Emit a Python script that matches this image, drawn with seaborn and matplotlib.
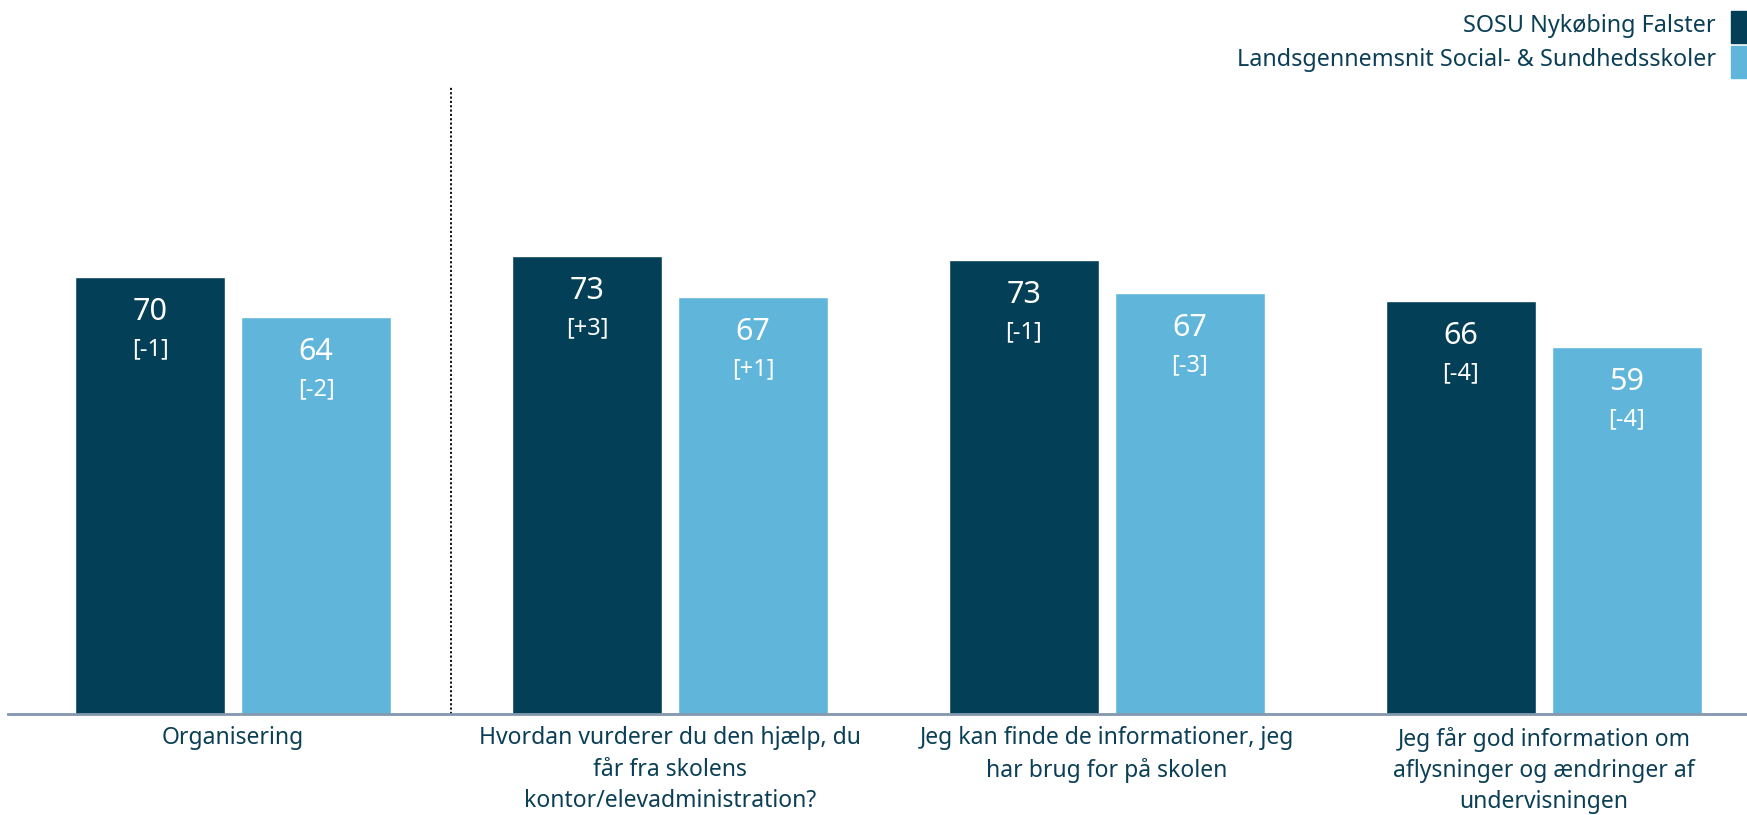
import pandas as pd
import seaborn as sns
import matplotlib.pyplot as plt
from matplotlib.patches import Rectangle

# ---------------------------------------------------------
# Data
# ---------------------------------------------------------
categories = [
    "Organisering",
    "Hvordan vurderer du den hjælp, du\nfår fra skolens\nkontor/elevadministration?",
    "Jeg kan finde de informationer, jeg\nhar brug for på skolen",
    "Jeg får god information om\naflysninger og ændringer af\nundervisningen",
]
series = ["SOSU Nykøbing Falster", "Landsgennemsnit Social- & Sundhedsskoler"]
school_values = [70.0, 73.4, 72.7, 66.1]
national_values = [63.6, 66.8, 67.4, 58.8]
school_change = ["[-1]", "[+3]", "[-1]", "[-4]"]
national_change = ["[-2]", "[+1]", "[-3]", "[-4]"]

colors = ["#033F57", "#5FB5DA"]
text_color = "#0B3F56"

df = pd.DataFrame({
    "cat": categories * 2,
    "value": school_values + national_values,
    "series": [series[0]] * 4 + [series[1]] * 4,
    "change": school_change + national_change,
})

# ---------------------------------------------------------
# Plot
# ---------------------------------------------------------
sns.set_theme(style="white")
plt.rcParams["font.family"] = ["Noto Sans", "DejaVu Sans"]

fig = plt.figure(figsize=(17.47, 8.15), dpi=100)
ax = fig.add_axes([8 / 1747, 101 / 815, 1 - 8 / 1747, 714 / 815])

sns.barplot(
    data=df, x="cat", y="value", hue="series",
    palette=colors, width=0.76, gap=0.097,
    saturation=1, legend=False, ax=ax,
)

ax.set_xlim(-0.515, 3.465)
ax.set_ylim(0, 114.4)
ax.set_xlabel("")
ax.set_ylabel("")
ax.set_yticks([])
for s in ["top", "right", "left"]:
    ax.spines[s].set_visible(False)
ax.spines["bottom"].set_color("#8398AE")
ax.spines["bottom"].set_linewidth(2)
ax.tick_params(axis="x", length=0, pad=9)
ax.set_xticks(range(len(categories)))
ax.set_xticklabels(categories, fontsize=16.5, color=text_color,
                   linespacing=1.4, va="top")

# separator between overall score and the questions
ax.axvline(0.5, ymin=0, ymax=100.5 / 114.4, color="black",
           linestyle=(0, (1.2, 1.2)), linewidth=1.3)

# value labels inside bars
for container, changes in zip(ax.containers, [school_change, national_change]):
    for bar, ch in zip(container, changes):
        cx = bar.get_x() + bar.get_width() / 2
        h = bar.get_height()
        ax.annotate(f"{h:.0f}", xy=(cx, h), xytext=(0, -25),
                    textcoords="offset points", ha="center", va="center",
                    color="white", fontsize=22)
        ax.annotate(ch, xy=(cx, h), xytext=(0, -52),
                    textcoords="offset points", ha="center", va="center",
                    color="white", fontsize=17)

# legend in the top right corner
W, H = 1747, 815
for i, (name, col) in enumerate(zip(series, colors)):
    top = 10.5 + i * 35
    fig.add_artist(Rectangle((1731 / W, 1 - (top + 32) / H), 20 / W, 32 / H,
                             transform=fig.transFigure, color=col,
                             clip_on=False))
    fig.text(1716 / W, 1 - (top + 15) / H, name, ha="right", va="center",
             fontsize=16.8, color=text_color)

fig.savefig("out.png", dpi=100)
